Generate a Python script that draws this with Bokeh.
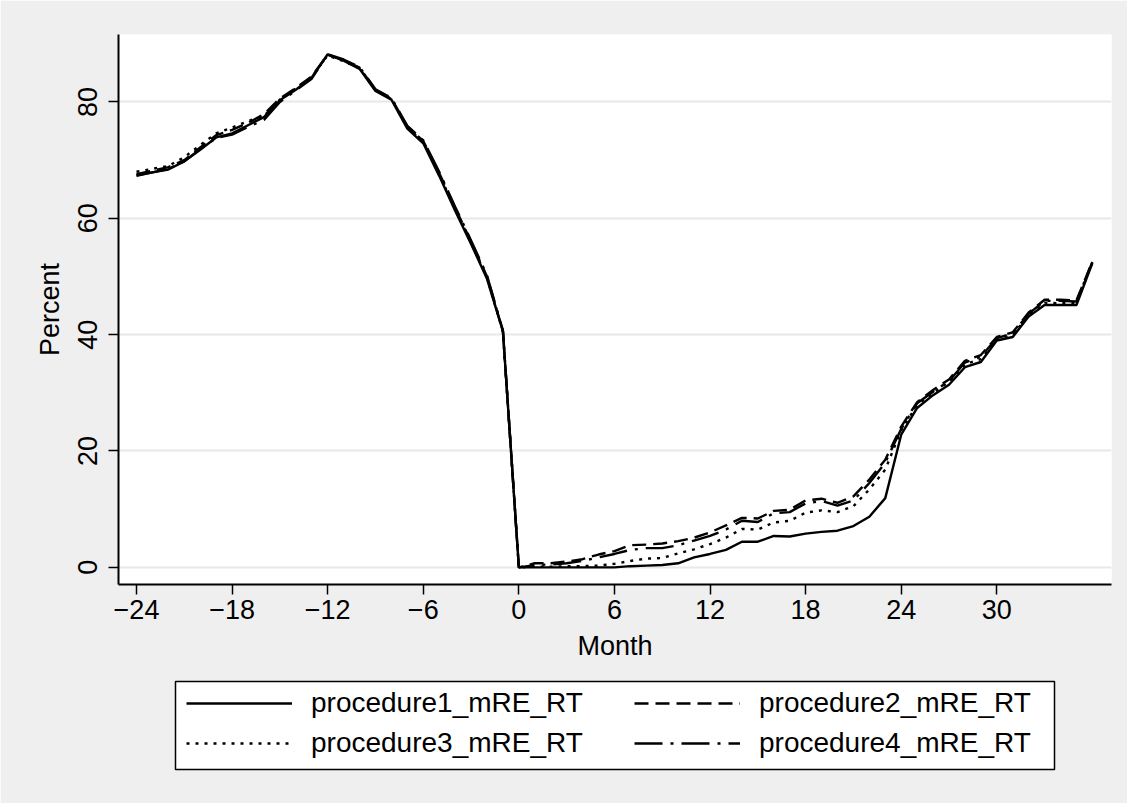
from bokeh.plotting import figure
from bokeh.models import Range1d, FixedTicker, Legend, LegendItem
from bokeh.layouts import column
from bokeh.embed import file_html
from bokeh.resources import INLINE

months = list(range(-24, 37))

procedure1 = [67.4, 67.9, 68.4, 69.8, 71.8, 73.9, 74.6, 76.0, 77.4, 80.3, 82.1, 84.2, 88.2, 87.1, 85.7, 81.9,
              80.4, 75.4, 72.9, 67.3, 61.3, 55.6, 49.6, 40.6, 0.0,
              0.0, 0.0, 0.0, 0.0, 0.0, 0.0, 0.2, 0.3, 0.4, 0.7, 1.7, 2.3, 3.0, 4.4, 4.4, 5.4, 5.3, 5.8, 6.1,
              6.3, 7.1, 8.7, 11.9, 22.8, 27.4, 29.6, 31.4, 34.4, 35.3, 39.0, 39.6, 43.1, 45.1, 45.1, 45.1, 52.3]
procedure2 = [67.6, 68.2, 68.8, 70.0, 72.2, 74.3, 75.2, 76.4, 77.9, 80.6, 82.4, 84.4, 88.1, 87.2, 85.9, 82.1,
              80.6, 75.8, 73.3, 67.8, 61.8, 56.0, 50.0, 40.6, 0.0,
              0.7, 0.7, 1.0, 1.4, 2.2, 2.8, 3.8, 3.9, 4.1, 4.5, 5.1, 6.0, 7.2, 8.5, 8.4, 9.7, 9.9, 11.5, 11.8,
              11.1, 12.2, 15.1, 18.5, 24.2, 28.4, 30.5, 32.3, 35.5, 36.5, 39.6, 40.4, 43.8, 46.0, 46.0, 45.9, 52.6]
procedure3 = [68.0, 68.5, 69.0, 70.5, 72.6, 74.6, 75.6, 76.7, 77.6, 80.4, 82.3, 84.3, 88.0, 87.0, 85.8, 82.0,
              80.5, 75.6, 73.1, 67.6, 61.6, 55.8, 49.8, 40.5, 0.0,
              0.1, 0.1, 0.2, 0.2, 0.3, 0.6, 1.1, 1.5, 1.6, 2.4, 3.1, 4.0, 5.1, 6.6, 6.5, 7.7, 8.0, 9.4, 9.8,
              9.5, 10.5, 13.4, 16.8, 23.6, 27.9, 30.0, 31.9, 34.9, 35.8, 39.2, 39.9, 43.4, 45.5, 45.4, 45.4, 52.4]
procedure4 = [67.3, 67.9, 68.5, 69.8, 71.9, 73.8, 74.4, 75.7, 76.9, 80.0, 82.0, 84.0, 88.2, 87.3, 86.0, 82.2,
              80.7, 75.9, 73.4, 68.0, 62.0, 56.2, 50.2, 40.7, 0.0,
              0.4, 0.5, 0.7, 1.1, 1.7, 2.3, 3.0, 3.3, 3.3, 3.8, 4.6, 5.4, 6.5, 8.0, 7.8, 9.3, 9.5, 11.0, 11.4,
              10.6, 11.5, 14.5, 18.0, 23.8, 28.2, 30.2, 32.0, 35.2, 36.2, 39.4, 40.2, 43.6, 45.8, 45.8, 45.7, 52.5]

series_names = ["procedure1_mRE_RT", "procedure2_mRE_RT", "procedure3_mRE_RT", "procedure4_mRE_RT"]
x_ticks = [-24, -18, -12, -6, 0, 6, 12, 18, 24, 30]
x_tick_labels = ["\u221224", "\u221218", "\u221212", "\u22126", "0", "6", "12", "18", "24", "30"]
y_ticks = [0, 20, 40, 60, 80]

FONT = "Liberation Sans"
FS = "27px"
GRAY = "#efefef"
series = [procedure1, procedure2, procedure3, procedure4]
dashes = ["solid", "14 7", "3 6", "28 8 3 8"]
LW = 2.4

# ---- main chart ----
p = figure(width=1127, height=663, output_backend="svg", toolbar_location=None,
           x_range=Range1d(-25.13, 37.2), y_range=Range1d(-2.95, 91.6),
           min_border_left=118, min_border_right=16, min_border_top=34, min_border_bottom=74)
p.frame_align = False
p.border_fill_color = GRAY
p.background_fill_color = "white"
p.outline_line_color = None

p.xgrid.grid_line_color = None
p.ygrid.ticker = FixedTicker(ticks=y_ticks)
p.ygrid.grid_line_color = "#e8e8e8"
p.ygrid.grid_line_width = 2

p.xaxis.ticker = FixedTicker(ticks=x_ticks)
p.xaxis.major_label_overrides = {t: l for t, l in zip(x_ticks, x_tick_labels)}
p.yaxis.ticker = FixedTicker(ticks=y_ticks)
p.yaxis.major_label_orientation = "vertical"
p.xaxis.axis_label = "Month"
p.yaxis.axis_label = "Percent"
for ax in (p.xaxis, p.yaxis):
    ax.axis_line_color = "black"
    ax.axis_line_width = 2
    ax.major_tick_line_color = "black"
    ax.major_tick_line_width = 1.5
    ax.major_tick_out = 10
    ax.major_tick_in = 0
    ax.minor_tick_line_color = None
    ax.major_label_text_font = FONT
    ax.major_label_text_font_size = FS
    ax.major_label_text_color = "black"
    ax.axis_label_text_font = FONT
    ax.axis_label_text_font_size = FS
    ax.axis_label_text_font_style = "normal"
    ax.axis_label_text_color = "black"
p.xaxis.major_label_standoff = 5
p.xaxis.axis_label_standoff = 9
p.yaxis.major_label_standoff = 11
p.yaxis.axis_label_standoff = 11

for vals, dash in zip(series, dashes):
    p.line(months, vals, line_color="black", line_width=LW, line_dash=dash)

# ---- legend panel (same series, kept out of view; only their legend keys show) ----
q = figure(width=1127, height=141, output_backend="svg", toolbar_location=None,
           x_range=Range1d(1000, 1001), y_range=Range1d(1000, 1001),
           x_axis_type=None, y_axis_type=None,
           min_border_left=175, min_border_right=73, min_border_top=19, min_border_bottom=34)
q.frame_align = False
q.margin = (-1, 0, 0, 0)
q.border_fill_color = GRAY
q.background_fill_color = "white"
q.outline_line_color = "black"
q.outline_line_width = 1.5
q.xgrid.visible = False
q.ygrid.visible = False
keys = [q.line(months, vals, line_color="black", line_width=LW, line_dash=dash)
        for vals, dash in zip(series, dashes)]

def make_legend(items, loc):
    lg = Legend(items=items, location=loc, orientation="vertical")
    lg.label_text_font = FONT
    lg.label_text_font_size = "28px"
    lg.label_text_color = "black"
    lg.glyph_width = 106
    lg.glyph_height = 30
    lg.label_standoff = 19
    lg.padding = 10
    lg.spacing = 8
    lg.margin = 0
    lg.border_line_alpha = 0
    lg.background_fill_alpha = 0
    return lg

leg1 = make_legend([LegendItem(label=series_names[0], renderers=[keys[0]]),
                    LegendItem(label=series_names[2], renderers=[keys[2]])], (1, 0))
leg2 = make_legend([LegendItem(label=series_names[1], renderers=[keys[1]]),
                    LegendItem(label=series_names[3], renderers=[keys[3]])], (449, 0))
q.add_layout(leg1, "center")
q.add_layout(leg2, "center")

layout = column(p, q, spacing=0)
open("out.html", "w").write(file_html(layout, INLINE))
